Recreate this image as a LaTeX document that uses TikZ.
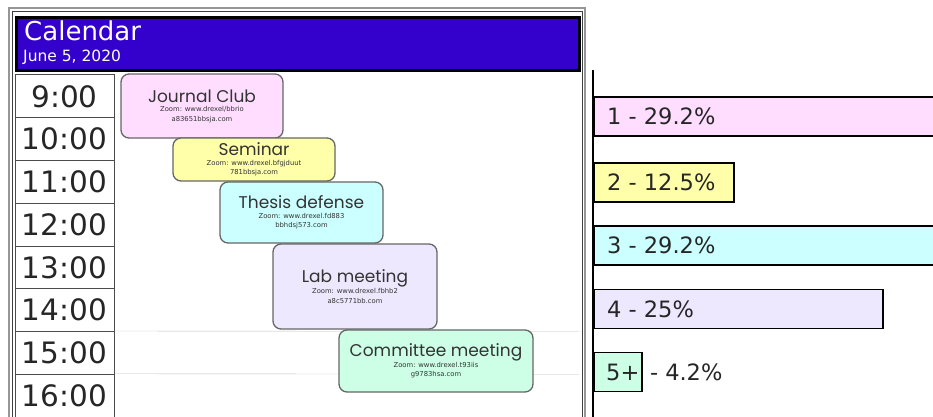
\documentclass[tikz,border=0pt]{standalone}
\usepackage{fontspec}
\setmainfont{DejaVu Sans}
\newfontfamily\handfont{Poppins}
\usetikzlibrary{positioning}
\definecolor{calblue}{RGB}{51,0,204}
\definecolor{evpink}{RGB}{255,221,255}
\definecolor{evyellow}{RGB}{255,255,170}
\definecolor{evcyan}{RGB}{204,255,255}
\definecolor{evlilac}{RGB}{238,232,255}
\definecolor{evmint}{RGB}{204,255,230}
\definecolor{framegray}{RGB}{150,150,150}
\definecolor{linegray}{RGB}{190,190,190}
\newcommand{\evtitle}[1]{{\handfont\fontsize{17}{20}\selectfont #1}}
\tikzstyle{hour} = [draw=black!70, line width=1pt, minimum width=99pt, minimum height=42.75pt, inner sep=0pt, text=black!85, font={\fontsize{29.5}{30}\selectfont}]
\tikzstyle{event} = [draw=black!60, line width=1.3pt, rounded corners=8pt, align=center, inner sep=0pt, text=black!80, font={\fontsize{6.8}{9.5}\selectfont}]
\tikzstyle{bar} = [draw=black, line width=1.8pt, anchor=west, minimum height=39pt, inner sep=0pt]
\tikzstyle{barlabel} = [anchor=west, inner xsep=14pt, inner ysep=0pt, text=black!85, font={\fontsize{22.5}{24}\selectfont}]

\begin{document}
\begin{tikzpicture}[x=1pt,y=-1pt]
        \useasboundingbox (0,0) rectangle (933,417);
        \clip (0,0) rectangle (933,417);
        \draw[framegray, line width=1.2pt] (9,8) rectangle (585,430);
        \draw[black!75] (12.5,11.5) rectangle (582,430);
        \node[draw=black, line width=3pt, fill=calblue, anchor=north west, minimum width=563pt, minimum height=53pt, inner sep=0pt](calhead) at (15,16){};
        \node[anchor=base west, inner sep=0pt, text=white, font={\fontsize{26}{28}\selectfont}](caltitle) at (24,41){Calendar};
        \node[anchor=base west, inner sep=0pt, text=white, font={\fontsize{15.5}{17}\selectfont}](caldate) at (23,62){June 5, 2020};
        \node[hour](t9) at (64.5,96.375){9:00};
        \node[hour](t10) at (64.5,139.125){10:00};
        \node[hour](t11) at (64.5,181.875){11:00};
        \node[hour](t12) at (64.5,224.625){12:00};
        \node[hour](t13) at (64.5,267.375){13:00};
        \node[hour](t14) at (64.5,310.125){14:00};
        \node[hour](t15) at (64.5,352.875){15:00};
        \node[hour](t16) at (64.5,395.625){16:00};
        \coordinate (r15) at (579,331.5);
        \coordinate (r16) at (579,374.25);
        \draw[linegray] (t15.north east) -- (r15);
        \draw[linegray] (t16.north east) -- (r16);
        \node[event, fill=evpink, minimum width=162pt, minimum height=64pt](jclub) at (202,106){\evtitle{Journal Club}\\Zoom: www.drexel/bbrio\\a83651bbsja.com};
        \node[event, fill=evyellow, minimum width=162pt, minimum height=43pt](seminar) at (254,159.5){\evtitle{Seminar}\\Zoom: www.drexel.bfgjduut\\781bbsja.com};
        \node[event, fill=evcyan, minimum width=163pt, minimum height=61pt](thesis) at (301.5,212.5){\evtitle{Thesis defense}\\Zoom: www.drexel.fd883\\bbhdsj573.com};
        \node[event, fill=evlilac, minimum width=164pt, minimum height=85pt](labmeet) at (355,286.5){\evtitle{Lab meeting}\\Zoom: www.drexel.fbhb2\\a8c5771bb.com};
        \node[event, fill=evmint, minimum width=194pt, minimum height=62pt](committee) at (436,361){\evtitle{Committee meeting}\\Zoom: www.drexel.t93iis\\g9783hsa.com};
        \coordinate (axtop) at (593,70);
        \coordinate (axbot) at (593,420);
        \draw[line width=1.8pt] (axtop) -- (axbot);
        \node[bar, fill=evpink, minimum width=360pt, label={[barlabel]west:1 - 29.2\%}](b1) at (593,116.5){};
        \node[bar, fill=evyellow, minimum width=140pt, label={[barlabel]west:2 - 12.5\%}](b2) at (593,182.5){};
        \node[bar, fill=evcyan, minimum width=360pt, label={[barlabel]west:3 - 29.2\%}](b3) at (593,245.5){};
        \node[bar, fill=evlilac, minimum width=289pt, label={[barlabel]west:4 - 25\%}](b4) at (593,309){};
        \node[bar, fill=evmint, minimum width=48pt, label={[barlabel, inner xsep=13pt]west:5+}](b5) at (593,372){};
        \node[barlabel, inner xsep=0pt, right=7pt of b5](b5pct){- 4.2\%};
      \end{tikzpicture}
\end{document}
